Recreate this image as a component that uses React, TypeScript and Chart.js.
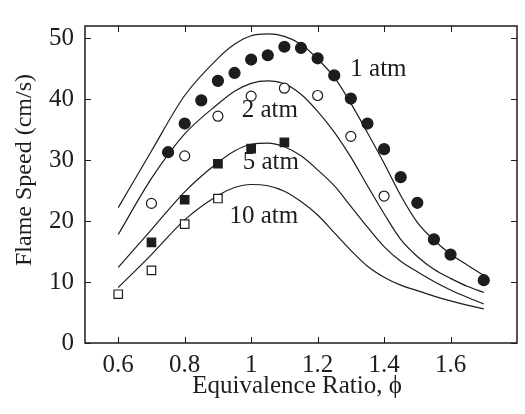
import React, { useEffect, useRef } from "react";
import { Chart, registerables } from "chart.js";

Chart.register(...registerables);

// Model curves (shared equivalence ratio grid)
const curvePhi = [0.6, 0.7, 0.8, 0.9, 0.95, 1.0, 1.05, 1.1, 1.15, 1.2, 1.25, 1.3, 1.35, 1.4, 1.45, 1.5, 1.55, 1.6, 1.65, 1.7];
const curve1atm = [22.2, 31.5, 40.6, 46.7, 49.0, 50.4, 50.7, 50.3, 49.0, 46.6, 43.6, 39.3, 34.5, 29.5, 24.2, 19.8, 16.9, 14.6, 12.8, 11.1];
const curve2atm = [17.8, 27.0, 34.3, 39.2, 41.3, 42.6, 43.0, 42.5, 40.8, 38.0, 34.6, 30.5, 25.8, 21.2, 17.0, 14.2, 12.1, 10.6, 9.3, 8.3];
const curve5atm = [12.4, 18.6, 24.8, 29.6, 31.5, 32.6, 32.8, 32.2, 30.7, 28.4, 25.8, 22.4, 19.0, 15.8, 13.4, 11.7, 10.1, 8.7, 7.5, 6.4];
const curve10atm = [9.1, 14.5, 20.2, 24.2, 25.5, 26.0, 25.8, 24.9, 23.2, 21.0, 18.1, 15.2, 12.6, 10.8, 9.5, 8.6, 7.7, 6.9, 6.2, 5.6];

// Measurements
const meas1Phi = [0.75, 0.8, 0.85, 0.9, 0.95, 1.0, 1.05, 1.1, 1.15, 1.2, 1.25, 1.3, 1.35, 1.4, 1.45, 1.5, 1.55, 1.6, 1.7];
const meas1Su = [31.3, 36.0, 39.8, 43.0, 44.3, 46.5, 47.2, 48.6, 48.4, 46.7, 43.9, 40.1, 36.0, 31.8, 27.2, 23.0, 17.0, 14.5, 10.3];
const meas2Phi = [0.7, 0.8, 0.9, 1.0, 1.1, 1.2, 1.3, 1.4];
const meas2Su = [22.9, 30.7, 37.2, 40.5, 41.8, 40.6, 33.9, 24.1];
const meas5Phi = [0.7, 0.8, 0.9, 1.0, 1.1];
const meas5Su = [16.5, 23.5, 29.4, 31.9, 32.9];
const meas10Phi = [0.6, 0.7, 0.8, 0.9];
const meas10Su = [8.0, 11.9, 19.5, 23.7];

const xTicks = [0.6, 0.8, 1.0, 1.2, 1.4, 1.6];
const yTicks = [0, 10, 20, 30, 40, 50];

const curveLabels = ["1 atm", "2 atm", "5 atm", "10 atm"];
const labelPhi = [1.383, 1.056, 1.059, 1.038];
const labelSu = [44.8, 38.2, 29.6, 20.8];

const yTitle = "Flame Speed (cm/s)";
const xTitle = "Equivalence Ratio, \u03d5";

const INK = "#1e1c1d";
const FONT = '"Liberation Serif", "Times New Roman", serif';

const pts = (xs: number[], ys: number[]) => xs.map((x, i) => ({ x, y: ys[i] }));

const framePlugin = {
  id: "frame",
  afterDraw(chart: any) {
    const { ctx, chartArea, scales } = chart;
    const { left, right, top, bottom } = chartArea;
    const x = scales.x;
    const y = scales.y;
    ctx.save();
    ctx.strokeStyle = INK;
    ctx.lineWidth = 1.5;
    ctx.strokeRect(left, top, right - left, bottom - top);
    ctx.lineWidth = 1;
    const tl = 6;
    ctx.beginPath();
    xTicks.forEach((v) => {
      const px = Math.round(x.getPixelForValue(v)) + 0.5;
      ctx.moveTo(px, bottom);
      ctx.lineTo(px, bottom - tl);
      ctx.moveTo(px, top);
      ctx.lineTo(px, top + tl);
    });
    yTicks.forEach((v) => {
      const py = Math.round(y.getPixelForValue(v)) + 0.5;
      ctx.moveTo(left, py);
      ctx.lineTo(left + tl, py);
      ctx.moveTo(right, py);
      ctx.lineTo(right - tl, py);
    });
    ctx.stroke();
    ctx.fillStyle = INK;
    ctx.font = `25px ${FONT}`;
    ctx.textAlign = "center";
    ctx.textBaseline = "middle";
    curveLabels.forEach((t, i) => {
      ctx.fillText(t, x.getPixelForValue(labelPhi[i]), y.getPixelForValue(labelSu[i]));
    });
    // axis titles
    ctx.fillText(xTitle, (left + right) / 2 - 4, 386);
    ctx.font = `24px ${FONT}`;
    ctx.translate(25, 170);
    ctx.rotate(-Math.PI / 2);
    ctx.fillText(yTitle, 0, 0);
    ctx.restore();
  },
};

export default function App() {
  const ref = useRef<HTMLCanvasElement | null>(null);
  useEffect(() => {
    if (!ref.current) return;
    const lineDs = (data: number[]) => ({
      type: "line" as const,
      data: pts(curvePhi, data),
      borderColor: INK,
      borderWidth: 1.2,
      pointRadius: 0,
      fill: false,
      cubicInterpolationMode: "monotone" as const,
      order: 2,
    });
    const markDs = (xs: number[], ys: number[], style: string, filled: boolean, r: number) => ({
      type: "line" as const,
      data: pts(xs, ys),
      showLine: false,
      pointStyle: style,
      pointRadius: r,
      pointBackgroundColor: filled ? INK : "#ffffff",
      pointBorderColor: INK,
      pointBorderWidth: 1.2,
      order: 1,
    });
    const chart = new Chart(ref.current, {
      type: "line",
      data: {
        datasets: [
          lineDs(curve1atm),
          lineDs(curve2atm),
          lineDs(curve5atm),
          lineDs(curve10atm),
          markDs(meas1Phi, meas1Su, "circle", true, 5.5),
          markDs(meas2Phi, meas2Su, "circle", false, 5),
          markDs(meas5Phi, meas5Su, "rect", true, 6),
          markDs(meas10Phi, meas10Su, "rect", false, 6),
        ] as any,
      },
      options: {
        animation: false,
        responsive: false,
        layout: { padding: { left: 0, right: 8, top: 6, bottom: 0 } },
        plugins: { legend: { display: false }, tooltip: { enabled: false } },
        scales: {
          x: {
            type: "linear",
            min: 0.5,
            max: 1.8,
            grid: { display: false, drawTicks: false },
            border: { display: false },
            afterBuildTicks: (s: any) => {
              s.ticks = xTicks.map((v) => ({ value: v }));
            },
            afterFit: (s: any) => {
              s.height = 71;
            },
            ticks: {
              padding: 7,
              color: INK,
              font: { family: FONT, size: 25 },
              maxRotation: 0,
              callback: (v: any) => String(Math.round(Number(v) * 10) / 10),
            },
          },
          y: {
            type: "linear",
            min: 0,
            max: 52,
            grid: { display: false, drawTicks: false },
            border: { display: false },
            afterBuildTicks: (s: any) => {
              s.ticks = yTicks.map((v) => ({ value: v }));
            },
            afterFit: (s: any) => {
              s.width = 85;
            },
            ticks: {
              padding: 11,
              color: INK,
              font: { family: FONT, size: 25 },
              callback: (v: any) => String(v),
            },
          },
        },
      },
      plugins: [framePlugin],
    });
    return () => chart.destroy();
  }, []);
  return (
    <div style={{ position: "fixed", left: 0, top: 0, width: 525, height: 414, background: "#fff" }}>
      <canvas ref={ref} width={525} height={414} style={{ width: 525, height: 414, display: "block" }} />
    </div>
  );
}
